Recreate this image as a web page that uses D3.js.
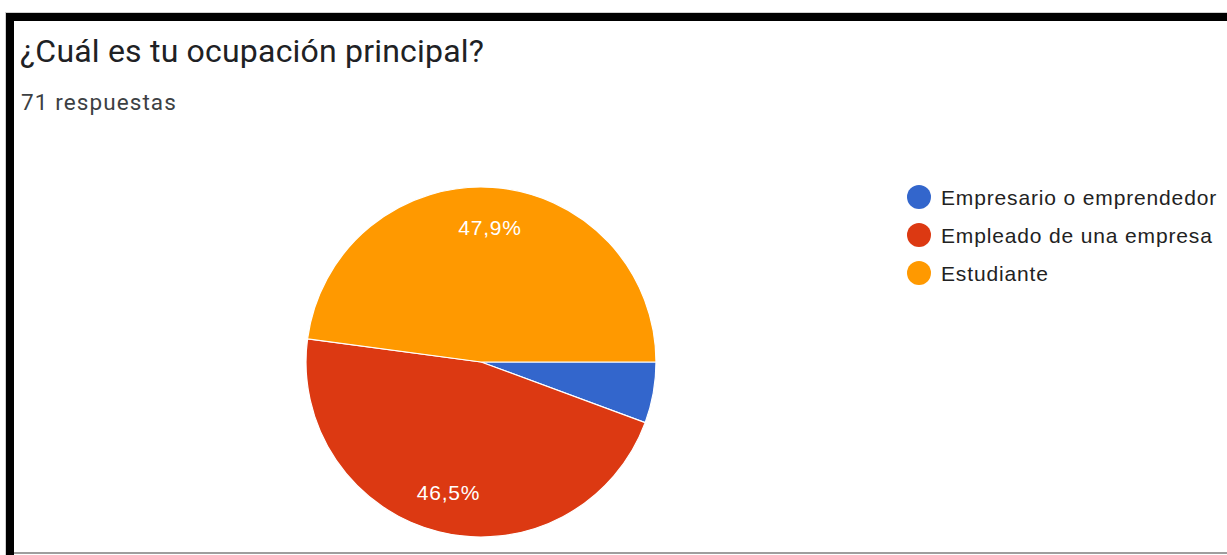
<!DOCTYPE html>
<html>
<head>
<meta charset="utf-8">
<script src="https://cdn.jsdelivr.net/npm/d3@7"></script>
<style>
  html, body { margin: 0; padding: 0; background: #fff; }
  svg { display: block; }
</style>
</head>
<body>
<svg id="chart" width="1227" height="555"></svg>
<script>
// Survey answers: ¿Cuál es tu ocupación principal?
const title = "¿Cuál es tu ocupación principal?";
const subtitle = "71 respuestas";
const categories = ["Empresario o emprendedor", "Empleado de una empresa", "Estudiante"];
const counts = [4, 33, 34];
const colors = ["#3366cc", "#dc3912", "#ff9900"];

const W = 1227, H = 555;
const svg = d3.select("#chart");

// Card frame: black top and left edges, thin grey bottom rule
svg.append("rect").attr("x", 5).attr("y", 12).attr("width", W - 5).attr("height", 1).attr("fill", "#d0d0d0");
svg.append("rect").attr("x", 5).attr("y", 12).attr("width", 1).attr("height", H - 12).attr("fill", "#d0d0d0");
svg.append("rect").attr("x", 6).attr("y", 13).attr("width", W - 6).attr("height", 8).attr("fill", "#000");
svg.append("rect").attr("x", 6).attr("y", 13).attr("width", 8).attr("height", H - 13).attr("fill", "#000");
svg.append("rect").attr("x", 14).attr("y", 552).attr("width", W - 14).attr("height", 2).attr("fill", "#9e9e9e");

svg.append("text")
  .attr("x", 20).attr("y", 62)
  .attr("font-family", "Roboto, sans-serif")
  .attr("font-size", 32)
  .attr("letter-spacing", 0.2)
  .attr("fill", "#202124")
  .text(title);

svg.append("text")
  .attr("x", 21).attr("y", 110)
  .attr("font-family", "Roboto, sans-serif")
  .attr("font-size", 22.5)
  .attr("letter-spacing", 1.1)
  .attr("fill", "#3c4043")
  .text(subtitle);

// Pie
const cx = 481, cy = 362, R = 175;
const total = d3.sum(counts);
const data = categories.map((c, i) => ({ name: c, value: counts[i], color: colors[i] }));

const pie = d3.pie()
  .value(d => d.value)
  .sort(null)
  .startAngle(Math.PI / 2)
  .endAngle(Math.PI / 2 + 2 * Math.PI);

const arc = d3.arc().innerRadius(0).outerRadius(R);
const labelArc = d3.arc().innerRadius(R * 0.77).outerRadius(R * 0.77);

const g = svg.append("g").attr("transform", `translate(${cx},${cy})`);
const arcs = pie(data);

g.selectAll("path")
  .data(arcs)
  .join("path")
  .attr("d", arc)
  .attr("fill", d => d.data.color)
  .attr("stroke", "#fff")
  .attr("stroke-width", 1.2);

const fmt = v => (v / total * 100).toFixed(1).replace(".", ",") + "%";

g.selectAll("text.pct")
  .data(arcs.filter(d => d.data.value / total > 0.1))
  .join("text")
  .attr("class", "pct")
  .attr("transform", d => `translate(${labelArc.centroid(d)})`)
  .attr("text-anchor", "middle")
  .attr("dy", "0.36em")
  .attr("font-family", "Arial, 'Liberation Sans', sans-serif")
  .attr("font-size", 21)
  .attr("letter-spacing", 0.8)
  .attr("fill", "#fff")
  .text(d => fmt(d.data.value));

// Legend
const legend = svg.append("g").attr("transform", "translate(919,197)");
const rowH = 38;
const items = legend.selectAll("g")
  .data(data)
  .join("g")
  .attr("transform", (d, i) => `translate(0,${i * rowH})`);

items.append("circle")
  .attr("r", 12)
  .attr("fill", d => d.color);

items.append("text")
  .attr("x", 22)
  .attr("dy", "0.36em")
  .attr("font-family", "Arial, 'Liberation Sans', sans-serif")
  .attr("font-size", 21)
  .attr("letter-spacing", 0.85)
  .attr("fill", "#222")
  .text(d => d.name);
</script>
</body>
</html>
